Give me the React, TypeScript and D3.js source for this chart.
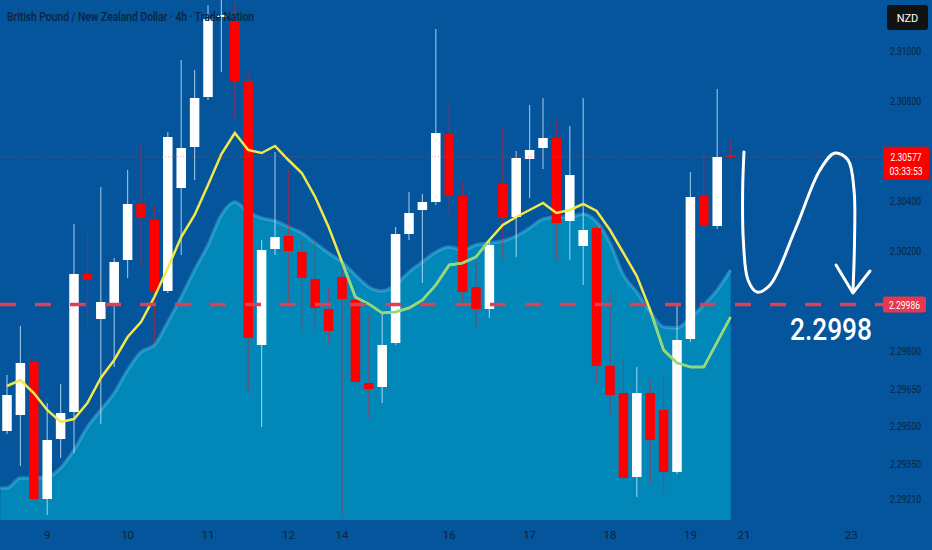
import * as d3 from "d3";
import { useEffect, useRef } from "react";

// GBP/NZD 4h candles
const candleOpen = [
  2.2948, 2.29544, 2.29756, 2.29208, 2.29448, 2.29556, 2.30108, 2.29928, 2.29992, 2.30164,
  2.30388, 2.30324, 2.3004, 2.30452, 2.30616, 2.30816, 2.31136, 2.3112, 2.3088, 2.29824,
  2.30208, 2.3026, 2.30196, 2.30088, 2.29968, 2.30096, 2.30004, 2.29672, 2.29656, 2.29832,
  2.30268, 2.30364, 2.30396, 2.30668, 2.3042, 2.30056, 2.29968, 2.30468, 2.30336, 2.30568,
  2.30612, 2.30652, 2.3032, 2.3022, 2.30292, 2.2974, 2.29632, 2.29296, 2.29632, 2.29564,
  2.29316, 2.29848, 2.3042, 2.303, 2.30584,
];
const candleHigh = [
  2.29704, 2.299, 2.29772, 2.29592, 2.29668, 2.30308, 2.30276, 2.30456, 2.30172, 2.30524,
  2.30628, 2.30384, 2.30676, 2.30964, 2.30924, 2.31184, 2.31224, 2.31192, 2.30916, 2.30244,
  2.30596, 2.30524, 2.30244, 2.30244, 2.30052, 2.30144, 2.30044, 2.29952, 2.29952, 2.30296,
  2.30436, 2.30428, 2.31088, 2.30796, 2.30476, 2.30156, 2.30244, 2.30692, 2.306, 2.30784,
  2.30812, 2.30724, 2.307, 2.30812, 2.30304, 2.30032, 2.29772, 2.29736, 2.29684, 2.297,
  2.29992, 2.30516, 2.30592, 2.30848, 2.30648,
];
const candleLow = [
  2.29468, 2.2934, 2.292, 2.29144, 2.29372, 2.29392, 2.29896, 2.29508, 2.29736, 2.30092,
  2.30136, 2.29832, 2.30032, 2.30184, 2.30484, 2.30804, 2.30916, 2.30724, 2.29636, 2.29496,
  2.30184, 2.29976, 2.29876, 2.29884, 2.29832, 2.29132, 2.2966, 2.29532, 2.29592, 2.29824,
  2.30244, 2.30072, 2.30384, 2.30336, 2.29996, 2.29892, 2.29932, 2.30164, 2.30176, 2.30412,
  2.30528, 2.30164, 2.30164, 2.30064, 2.29672, 2.29544, 2.29284, 2.29216, 2.29272, 2.29224,
  2.29308, 2.29836, 2.30284, 2.30288, 2.30564,
];
const candleClose = [
  2.29624, 2.29752, 2.29208, 2.29444, 2.29552, 2.30108, 2.30084, 2.29996, 2.30156, 2.30388,
  2.30332, 2.30036, 2.30656, 2.30612, 2.30812, 2.31128, 2.31144, 2.3088, 2.29852, 2.30204,
  2.30256, 2.302, 2.30092, 2.29972, 2.2988, 2.30008, 2.29676, 2.29648, 2.29824, 2.30268,
  2.30352, 2.30396, 2.30672, 2.3042, 2.30036, 2.29968, 2.30224, 2.30336, 2.30572, 2.30604,
  2.30652, 2.30312, 2.30504, 2.30284, 2.2974, 2.29624, 2.29292, 2.29632, 2.29444, 2.29316,
  2.29844, 2.30416, 2.303, 2.30576, 2.30577,
];

// yellow moving average
const maLine = [
  2.2966, 2.29684, 2.29632, 2.29564, 2.29516, 2.29528, 2.29592, 2.29692, 2.29764, 2.29856,
  2.29916, 2.30016, 2.30132, 2.30256, 2.30344, 2.30464, 2.30588, 2.30672, 2.30604, 2.30592,
  2.3062, 2.30564, 2.30512, 2.30416, 2.30296, 2.30156, 2.30016, 2.29988, 2.29952, 2.29956,
  2.29972, 2.30004, 2.30064, 2.30144, 2.30152, 2.30176, 2.30244, 2.30304, 2.30336, 2.30364,
  2.30392, 2.30352, 2.30364, 2.30388, 2.3036, 2.30284, 2.30192, 2.301, 2.29964, 2.29804,
  2.29752, 2.29736, 2.29736, 2.29836, 2.29936,
];

// shaded (slower) average
const maArea = [
  2.29252, 2.29292, 2.29292, 2.29296, 2.29332, 2.29404, 2.29496, 2.29564, 2.29632, 2.29724,
  2.29796, 2.29824, 2.29916, 2.30016, 2.30124, 2.30224, 2.30344, 2.30396, 2.30356, 2.30332,
  2.3032, 2.30296, 2.30272, 2.30232, 2.30192, 2.30156, 2.30104, 2.30056, 2.3004, 2.30064,
  2.30116, 2.30156, 2.30196, 2.30216, 2.30204, 2.30224, 2.30232, 2.3024, 2.3026, 2.30292,
  2.30328, 2.30336, 2.30336, 2.30348, 2.30316, 2.30232, 2.30104, 2.30036, 2.29956, 2.29896,
  2.29892, 2.29932, 2.29984, 2.30044, 2.30124,
];

const dayTickIndex = [3, 9, 15, 21, 25, 33, 39, 45, 51, 55, 63];
const dayTickLabels = ["9", "10", "11", "12", "14", "16", "17", "18", "19", "21", "23"];
// 2.306 and 2.300 sit under the price badges, so they are left out
const priceTicks = [2.31, 2.308, 2.304, 2.302, 2.298, 2.2965, 2.295, 2.2935, 2.2921];

const title = "British Pound / New Zealand Dollar · 4h · Trade Nation";
const currency = "NZD";
const lastPrice = 2.30577;
const countdown = "03:33:53";
const targetPrice = 2.29986;
const targetLabel = "2.2998";

// hand drawn arrow, in (candle index, price)
const arrowStroke: [number, number][] = [
  [55.0, 2.30596], [54.9, 2.30444], [54.95, 2.30244], [55.3, 2.30084], [55.97, 2.30036],
  [56.94, 2.30064], [58.81, 2.30284], [60.67, 2.30524], [61.79, 2.30592], [62.76, 2.30564],
  [63.21, 2.30444], [63.25, 2.30244], [63.13, 2.30036],
];
const arrowHead: [number, number][] = [
  [61.87, 2.30144], [63.13, 2.30032], [64.4, 2.3012],
];

export default function App() {
  const svgRef = useRef<SVGSVGElement>(null);

  useEffect(() => {
    if (!svgRef.current) return;
    d3.select(svgRef.current).selectAll("*").remove();
    const svg = d3.select(svgRef.current);

    const W = 932;
    const H = 550;
    const plotRight = 872;
    const plotBottom = 520;
    const bg = "#04559b";
    const labelColor = "#0b2440";
    const font = "'Liberation Sans Narrow', 'Roboto', 'Liberation Sans', sans-serif";

    const x = d3.scaleLinear().domain([0, 63]).range([7, 7 + 63 * 13.4]);
    const y = d3.scaleLinear().domain([2.29132, 2.31204]).range([518, 0]);
    const fmt = d3.format(".5f");

    const candles = candleOpen.map((o, i) => ({
      i,
      o,
      h: candleHigh[i],
      l: candleLow[i],
      c: candleClose[i],
    }));

    svg.append("rect").attr("width", W).attr("height", H).attr("fill", bg);

    const defs = svg.append("defs");
    defs
      .append("clipPath")
      .attr("id", "plot-clip")
      .append("rect")
      .attr("width", plotRight)
      .attr("height", plotBottom);

    const areaData = [{ i: -0.5, v: maArea[0] }, ...maArea.map((v, i) => ({ i, v }))];
    const area = d3
      .area<{ i: number; v: number }>()
      .x((d) => x(d.i))
      .y0(plotBottom)
      .y1((d) => y(d.v))
      .curve(d3.curveMonotoneX);
    const areaTop = d3
      .line<{ i: number; v: number }>()
      .x((d) => x(d.i))
      .y((d) => y(d.v))
      .curve(d3.curveMonotoneX);

    defs
      .append("clipPath")
      .attr("id", "area-clip")
      .append("path")
      .attr("d", area(areaData));

    const g = svg.append("g").attr("clip-path", "url(#plot-clip)");

    // title
    svg
      .append("text")
      .attr("x", 7)
      .attr("y", 21)
      .attr("fill", labelColor)
      .attr("textLength", 247)
      .attr("lengthAdjust", "spacingAndGlyphs")
      .style("font-family", font)
      .style("font-size", "13px")
      .style("font-weight", 500)
      .text(title);

    // current price line (thin dotted)
    svg
      .append("line")
      .attr("x1", 0)
      .attr("x2", 884)
      .attr("y1", y(lastPrice))
      .attr("y2", y(lastPrice))
      .attr("stroke", "#ff3b3b")
      .attr("stroke-width", 1)
      .attr("stroke-dasharray", "1 2")
      .attr("opacity", 0.5);

    // target dashed line
    svg
      .append("line")
      .attr("x1", 0)
      .attr("x2", 884)
      .attr("y1", y(targetPrice))
      .attr("y2", y(targetPrice))
      .attr("stroke", "#e33d52")
      .attr("stroke-width", 3.5)
      .attr("stroke-dasharray", "16 19");

    // shaded average
    g.append("path")
      .attr("d", area(areaData))
      .attr("fill", "rgb(0,197,222)")
      .attr("fill-opacity", 0.45);
    g.append("path")
      .attr("d", areaTop(areaData))
      .attr("fill", "none")
      .attr("stroke", "rgba(100,210,240,0.35)")
      .attr("stroke-width", 3.5);

    // candles
    const bodyW = 9.5;
    const up = (d: (typeof candles)[0]) => d.c >= d.o;
    g.selectAll(".wick")
      .data(candles)
      .enter()
      .append("line")
      .attr("x1", (d) => x(d.i))
      .attr("x2", (d) => x(d.i))
      .attr("y1", (d) => y(d.h))
      .attr("y2", (d) => y(d.l))
      .attr("stroke", (d) => (up(d) ? "rgba(200,230,255,0.7)" : "rgba(235,20,40,0.5)"))
      .attr("stroke-width", 1.2);
    g.selectAll(".body")
      .data(candles)
      .enter()
      .append("rect")
      .attr("x", (d) => x(d.i) - bodyW / 2)
      .attr("y", (d) => y(Math.max(d.o, d.c)))
      .attr("width", bodyW)
      .attr("height", (d) => Math.max(1.5, Math.abs(y(d.o) - y(d.c))))
      .attr("fill", (d) => (up(d) ? "#ffffff" : "#ff0000"));

    // yellow average, greenish where it sits in the shaded band
    const maPts = maLine.map((v, i) => ({ i, v }));
    const line = d3
      .line<{ i: number; v: number }>()
      .x((d) => x(d.i))
      .y((d) => y(d.v));
    g.append("path")
      .attr("d", line(maPts))
      .attr("fill", "none")
      .attr("stroke", "#f3e84a")
      .attr("stroke-width", 2.5);
    g.append("g")
      .attr("clip-path", "url(#area-clip)")
      .append("path")
      .attr("d", line(maPts))
      .attr("fill", "none")
      .attr("stroke", "#8fd880")
      .attr("stroke-width", 2.5);

    // right price axis
    svg
      .append("g")
      .selectAll("text")
      .data(priceTicks)
      .enter()
      .append("text")
      .attr("x", 890)
      .attr("y", (d) => y(d) + 4)
      .attr("fill", labelColor)
      .attr("textLength", 31)
      .attr("lengthAdjust", "spacingAndGlyphs")
      .style("font-family", font)
      .style("font-size", "11px")
      .text((d) => fmt(d));

    // bottom day axis
    svg
      .append("g")
      .selectAll("text")
      .data(dayTickIndex)
      .enter()
      .append("text")
      .attr("x", (d) => x(d))
      .attr("y", 539)
      .attr("fill", labelColor)
      .attr("text-anchor", "middle")
      .style("font-family", font)
      .style("font-size", "11.5px")
      .text((d, i) => dayTickLabels[i]);

    // currency badge
    svg
      .append("rect")
      .attr("x", 887)
      .attr("y", 5)
      .attr("width", 41)
      .attr("height", 25)
      .attr("rx", 3)
      .attr("fill", "#121212");
    svg
      .append("text")
      .attr("x", 907.5)
      .attr("y", 21.5)
      .attr("fill", "#ffffff")
      .attr("text-anchor", "middle")
      .style("font-family", font)
      .style("font-size", "11px")
      .text(currency);

    // last price badge
    const ly = y(lastPrice);
    svg
      .append("rect")
      .attr("x", 883)
      .attr("y", ly - 10)
      .attr("width", 46)
      .attr("height", 33)
      .attr("rx", 2)
      .attr("fill", "#ff0000");
    svg
      .append("text")
      .attr("x", 906)
      .attr("y", ly + 4)
      .attr("fill", "#ffffff")
      .attr("text-anchor", "middle")
      .attr("textLength", 31)
      .attr("lengthAdjust", "spacingAndGlyphs")
      .style("font-family", font)
      .style("font-size", "11px")
      .text(fmt(lastPrice));
    svg
      .append("text")
      .attr("x", 906)
      .attr("y", ly + 18)
      .attr("fill", "#ffffff")
      .attr("text-anchor", "middle")
      .attr("textLength", 33)
      .attr("lengthAdjust", "spacingAndGlyphs")
      .style("font-family", font)
      .style("font-size", "11px")
      .text(countdown);

    // target price badge
    const ty = y(targetPrice);
    svg
      .append("rect")
      .attr("x", 883)
      .attr("y", ty - 8)
      .attr("width", 43)
      .attr("height", 16)
      .attr("rx", 2)
      .attr("fill", "#e8364f");
    svg
      .append("text")
      .attr("x", 904.5)
      .attr("y", ty + 4)
      .attr("fill", "#ffffff")
      .attr("text-anchor", "middle")
      .attr("textLength", 31)
      .attr("lengthAdjust", "spacingAndGlyphs")
      .style("font-family", font)
      .style("font-size", "11px")
      .text(fmt(targetPrice));

    // hand drawn arrow + target text
    const pen = d3
      .line<[number, number]>()
      .x((d) => x(d[0]))
      .y((d) => y(d[1]))
      .curve(d3.curveCatmullRom);
    svg
      .append("path")
      .attr("d", pen(arrowStroke))
      .attr("fill", "none")
      .attr("stroke", "#ffffff")
      .attr("stroke-width", 3)
      .attr("stroke-linecap", "round");
    svg
      .append("path")
      .attr("d", d3.line<[number, number]>().x((d) => x(d[0])).y((d) => y(d[1]))(arrowHead))
      .attr("fill", "none")
      .attr("stroke", "#ffffff")
      .attr("stroke-width", 3)
      .attr("stroke-linecap", "round")
      .attr("stroke-linejoin", "round");

    svg
      .append("text")
      .attr("x", 790)
      .attr("y", 340)
      .attr("fill", "#ffffff")
      .attr("textLength", 82)
      .attr("lengthAdjust", "spacingAndGlyphs")
      .style("font-family", "'Roboto', 'Liberation Sans', sans-serif")
      .style("font-weight", 500)
      .style("font-size", "31px")
      .text(targetLabel);
  }, []);

  return (
    <svg
      ref={svgRef}
      width="932"
      height="550"
      style={{ position: "absolute", left: 0, top: 0, display: "block" }}
    />
  );
}
